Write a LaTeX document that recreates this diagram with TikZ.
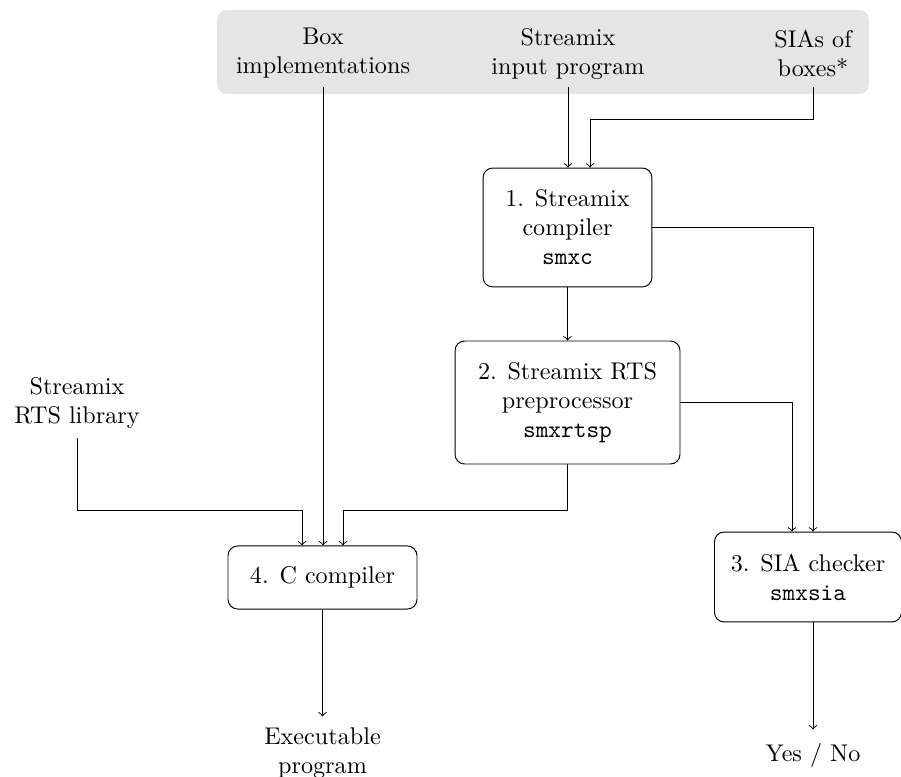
\documentclass[tikz,border=0pt]{standalone}
\begin{document}
\begin{tikzpicture}[x=0.4138pt, y=-0.4138pt,
  every node/.style={align=center, inner sep=0pt},
  proc/.style={draw, rounded corners=4pt, line width=0.4pt},
  conn/.style={->, line width=0.4pt},
  intxt/.style={minimum height=27.6pt}]
\useasboundingbox (0,0) rectangle (901,777);
% input area
\node[fill=black!10, rounded corners=4pt, minimum width=269.8pt, minimum height=34.8pt] (inputs) at (543,52) {};
\node[intxt] (boximpl) at (323,53.5) {Box\\implementations};
\node[intxt] (sip) at (568,53.5) {Streamix\\input program};
\node[intxt] (sia) at (813,53.5) {SIAs of\\boxes*};
% processes
\node[proc, minimum width=69.9pt, minimum height=49.2pt] (b1) at (567.5,227.5) {1. Streamix\\compiler\\\texttt{smxc}};
\node[proc, minimum width=93.1pt, minimum height=50.9pt] (b2) at (567.5,402.5) {2. Streamix RTS\\preprocessor\\\texttt{smxrtsp}};
\node[proc, minimum width=77.4pt, minimum height=37.2pt] (b3) at (808,577) {3. SIA checker\\\texttt{smxsia}};
\node[proc, minimum width=78.2pt, minimum height=26.1pt] (cc) at (322.5,577.5) {4. C compiler};
% other texts
\node[minimum height=28.5pt] (lib) at (77,402.6) {Streamix\\RTS library};
\node[minimum height=29.5pt] (exe) at (322.5,752.6) {Executable\\program};
\node[minimum height=20.7pt] (yesno) at (813,755) {Yes / No};
% lanes
\coordinate (laneA) at (792,0);
\coordinate (laneL) at (302,0);
\coordinate (laneR) at (343,0);
\coordinate (laneS) at (590,0);
\coordinate (j1) at (0,119);
\coordinate (j2) at (0,510);
% connectors
\draw[conn] (boximpl.south) -- (boximpl.south |- cc.north);
\draw[conn] (sip.south) -- (sip.south |- b1.north);
\draw[conn] (sia.south) -- (sia.south |- j1) -| (laneS |- b1.north);
\draw[conn] (b1.south) -- (b2.north);
\draw[conn] (b1.east) -| (sia.south |- b3.north);
\draw[conn] (b2.east) -| (laneA |- b3.north);
\draw[conn] (b2.south) -- (b2.south |- j2) -| (laneR |- cc.north);
\draw[conn] (lib.south) -- (lib.south |- j2) -| (laneL |- cc.north);
\draw[conn] (cc.south) -- (exe.north);
\draw[conn] (sia.south |- b3.south) -- (yesno.north);
\end{tikzpicture}
\end{document}
